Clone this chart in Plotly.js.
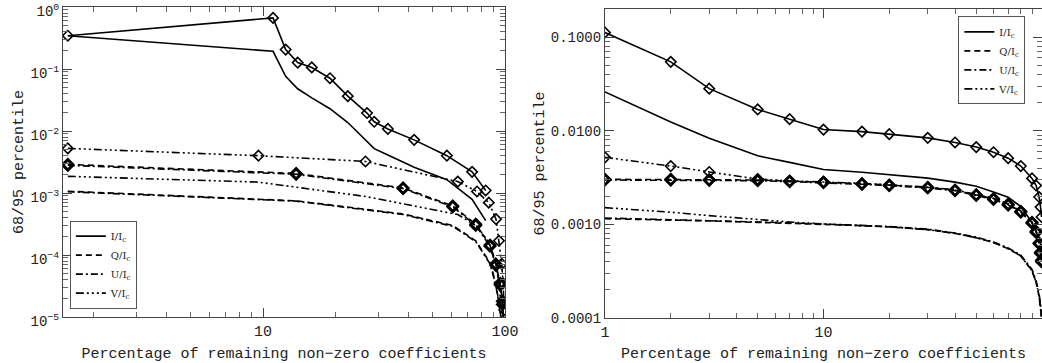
<!DOCTYPE html>
<html>
<head>
<meta charset="utf-8">
<script src="https://cdn.plot.ly/plotly-3.0.1.min.js"></script>
<style>
  html, body { margin: 0; padding: 0; background: #fff; }
  #chart { width: 1042px; height: 363px; }
</style>
</head>
<body>
<div id="chart"></div>
<script>
// ---- left panel: percentiles vs. % of remaining coefficients ----
var xI_left = [1.56, 11.0, 12.4, 13.9, 15.9, 18.9, 22.4, 26.9, 28.8, 32.8, 42.1, 57.5, 73.1, 83.2];
var i95_left = [0.344, 0.667, 0.206, 0.127, 0.106, 0.071, 0.0365, 0.0195, 0.0141, 0.0108, 0.0072, 0.0040, 0.0022, 0.0011];
var i68_left = [0.344, 0.193, 0.076, 0.048, 0.0343, 0.0229, 0.0137, 0.0068, 0.0052, 0.0041, 0.0026, 0.00164, 0.00079, 0.00036];

var xQU_left = [1.56, 13.7, 37.9, 60.8, 75.7, 86.7, 91.6, 95.5, 97.5, 99.0];
var q95_left = [0.0029, 0.00207, 0.00121, 0.00062, 0.000314, 0.000145, 7.2e-5, 3.5e-5, 1.8e-5, 8e-6];
var u95_left = [0.0028, 0.00201, 0.00118, 0.00060, 0.000300, 0.000139, 6.8e-5, 3.3e-5, 1.6e-5, 7e-6];
var q68_left = [0.00107, 0.00075, 0.00046, 0.00030, 0.00017, 7.5e-5, 3.5e-5, 1.3e-5, 5e-6, 1e-6];
var u68_left = [0.00105, 0.00074, 0.00045, 0.00029, 0.000165, 7.2e-5, 3.3e-5, 1.2e-5, 4.5e-6, 1e-6];

var xV_left = [1.56, 9.57, 26.5, 63.8, 76.6, 85.7, 91.8, 94.4, 96.9, 98.2, 99.2];
var v95_left = [0.00525, 0.0040, 0.00323, 0.00153, 0.00106, 0.00070, 0.00038, 0.00017, 7.2e-5, 3.5e-5, 1.3e-5];
var v68_left = [0.00186, 0.00150, 0.00088, 0.00045, 0.00029, 0.00016, 7.5e-5, 3.5e-5, 1.2e-5, 4e-6, 1e-6];

// ---- right panel ----
var x_right = [1, 2, 3, 5, 7, 10, 15, 20, 30, 40, 50, 60, 70, 80, 90, 94, 97, 98.5, 99.5];
var i95_right = [0.112, 0.0545, 0.0282, 0.0169, 0.0133, 0.0103, 0.0098, 0.0092, 0.0084, 0.0075, 0.0067, 0.0059, 0.0051, 0.0042, 0.0031, 0.0026, 0.00196, 0.00153, 0.0012];
var i68_right = [0.026, 0.0124, 0.0083, 0.0054, 0.0046, 0.00385, 0.0036, 0.0034, 0.00312, 0.00283, 0.00255, 0.00222, 0.00195, 0.00155, 0.00105, 0.00085, 0.0007, 0.00062, 0.0005];
var q95_right = [0.00303, 0.00303, 0.00300, 0.00298, 0.00290, 0.00283, 0.00272, 0.00263, 0.00248, 0.00232, 0.00207, 0.00188, 0.00164, 0.00137, 0.00105, 0.00084, 0.00063, 0.0005, 0.00041];
var u95_right = [0.00298, 0.00298, 0.00296, 0.00293, 0.00286, 0.00279, 0.00268, 0.00259, 0.00245, 0.00229, 0.00204, 0.00185, 0.00161, 0.00135, 0.00103, 0.00082, 0.00062, 0.00049, 0.0004];
var v95_right = [0.0052, 0.0042, 0.00363, 0.00305, 0.00292, 0.00285, 0.00274, 0.00265, 0.00250, 0.00234, 0.00209, 0.00190, 0.00166, 0.00139, 0.00106, 0.00085, 0.00064, 0.00051, 0.00042];
var q68_right = [0.00115, 0.00112, 0.00109, 0.00105, 0.00103, 0.00100, 0.00097, 0.00094, 0.00088, 0.0008, 0.00072, 0.00064, 0.00055, 0.00046, 0.00032, 0.00024, 0.00017, 0.00013, 0.0001];
var u68_right = [0.00117, 0.00113, 0.00110, 0.00106, 0.00104, 0.00101, 0.00098, 0.00095, 0.00089, 0.00081, 0.00073, 0.00065, 0.00056, 0.00047, 0.00033, 0.00025, 0.00018, 0.00014, 0.0001];
var v68_right = [0.00151, 0.00135, 0.00124, 0.00112, 0.00106, 0.00101, 0.00097, 0.00094, 0.00088, 0.0008, 0.00072, 0.00064, 0.00055, 0.00046, 0.00032, 0.00024, 0.00017, 0.00013, 0.0001];

// tick labels
var yTicksLeft = [1, 0.1, 0.01, 0.001, 1e-4, 1e-5];
var yLabelsLeft = ['10<sup>0</sup>', '10<sup>\u22121</sup>', '10<sup>\u22122</sup>', '10<sup>\u22123</sup>', '10<sup>\u22124</sup>', '10<sup>\u22125</sup>'];
var yTicksRight = [0.1, 0.01, 0.001, 0.0001];
var yLabelsRight = ['0.1000', '0.0100', '0.0010', '0.0001'];

var seriesNames = ['I/I<sub>c</sub>', 'Q/I<sub>c</sub>', 'U/I<sub>c</sub>', 'V/I<sub>c</sub>'];

var DASH_Q = '6px,4px';
var DASH_U = '7px,3px,2px,3px';
var DASH_V = '8px,3px,2px,3px,2px,3px,2px,3px';

function line(x, y, dash, xa, ya, opts) {
  var t = {
    x: x, y: y, type: 'scatter', mode: 'lines',
    xaxis: xa, yaxis: ya,
    line: {color: '#000', width: 1.6, dash: dash},
    showlegend: false, hoverinfo: 'skip'
  };
  for (var k in opts) t[k] = opts[k];
  return t;
}
function withMarkers(x, y, dash, xa, ya, lw) {
  return line(x, y, dash, xa, ya, {
    mode: 'lines+markers',
    marker: {symbol: 'diamond-open', size: 8, color: '#000', line: {width: lw || 1.6, color: '#000'}}
  });
}

var data = [
  // left
  line(xI_left, i68_left, 'solid', 'x', 'y', {name: seriesNames[0], showlegend: true, legend: 'legend'}),
  withMarkers(xI_left, i95_left, 'solid', 'x', 'y'),
  line(xQU_left, q68_left, DASH_Q, 'x', 'y', {name: seriesNames[1], showlegend: true, legend: 'legend'}),
  withMarkers(xQU_left, q95_left, DASH_Q, 'x', 'y', 2.4),
  line(xQU_left, u68_left, DASH_U, 'x', 'y', {name: seriesNames[2], showlegend: true, legend: 'legend'}),
  withMarkers(xQU_left, u95_left, DASH_U, 'x', 'y', 2.4),
  line(xV_left, v68_left, DASH_V, 'x', 'y', {name: seriesNames[3], showlegend: true, legend: 'legend'}),
  withMarkers(xV_left, v95_left, DASH_V, 'x', 'y'),
  // right
  line(x_right, i68_right, 'solid', 'x2', 'y2', {name: seriesNames[0], showlegend: true, legend: 'legend2'}),
  withMarkers(x_right, i95_right, 'solid', 'x2', 'y2'),
  line(x_right, q68_right, DASH_Q, 'x2', 'y2', {name: seriesNames[1], showlegend: true, legend: 'legend2'}),
  withMarkers(x_right, q95_right, DASH_Q, 'x2', 'y2', 2.4),
  line(x_right, u68_right, DASH_U, 'x2', 'y2', {name: seriesNames[2], showlegend: true, legend: 'legend2'}),
  withMarkers(x_right, u95_right, DASH_U, 'x2', 'y2', 2.4),
  line(x_right, v68_right, DASH_V, 'x2', 'y2', {name: seriesNames[3], showlegend: true, legend: 'legend2'}),
  withMarkers(x_right, v95_right, DASH_V, 'x2', 'y2')
];

var FONT = 'Liberation Mono, DejaVu Sans Mono, monospace';
var SERIF = 'DejaVu Serif, Liberation Serif, serif';
var XTITLE = 'Percentage of remaining non\u2212zero coefficients';
var YTITLE = '68/95 percentile';

function axisBase() {
  return {
    type: 'log',
    showgrid: false, zeroline: false,
    showline: true, linecolor: '#444', linewidth: 1, mirror: 'allticks',
    ticks: 'inside', ticklen: 9, tickcolor: '#444', tickwidth: 1,
    minor: {ticks: 'inside', ticklen: 5, tickcolor: '#666', dtick: 'D1', showgrid: false},
    tickfont: {family: FONT, size: 15, color: '#222'},
    ticklabeloverflow: 'allow',
    automargin: false
  };
}

var xaxis = axisBase();
xaxis.domain = [0, 0.4515];
xaxis.range = [Math.log10(1.49), 2];
xaxis.tickmode = 'array'; xaxis.tickvals = [10, 100]; xaxis.ticktext = ['10', '100'];
xaxis.title = {text: XTITLE, font: {family: FONT, size: 15, color: '#222'}};
xaxis.anchor = 'y';

var yaxis = axisBase();
yaxis.domain = [0.003, 1];
yaxis.range = [-5, 0];
yaxis.tickmode = 'array'; yaxis.tickvals = yTicksLeft; yaxis.ticktext = yLabelsLeft;
yaxis.tickfont = {family: FONT, size: 14, color: '#222'};
yaxis.ticklabelshift = 4;
yaxis.title = {text: YTITLE, font: {family: FONT, size: 15, color: '#222'}};
yaxis.anchor = 'x';

var xaxis2 = axisBase();
xaxis2.domain = [0.5536, 1];
xaxis2.range = [0, 2];
xaxis2.tickmode = 'array'; xaxis2.tickvals = [1, 10]; xaxis2.ticktext = ['1', '10'];
xaxis2.title = {text: XTITLE, font: {family: FONT, size: 15, color: '#222'}};
xaxis2.anchor = 'y2';

var yaxis2 = axisBase();
yaxis2.domain = [0, 0.9936];
yaxis2.range = [-4, Math.log10(0.2)];
yaxis2.tickmode = 'array'; yaxis2.tickvals = yTicksRight; yaxis2.ticktext = yLabelsRight;
yaxis2.tickfont = {family: FONT, size: 14, color: '#222'};
yaxis2.title = {text: YTITLE, font: {family: FONT, size: 15, color: '#222'}};
yaxis2.anchor = 'x2';

var legendStyle = {
  font: {family: SERIF, size: 10, color: '#222'},
  bgcolor: '#fff', bordercolor: '#555', borderwidth: 1,
  tracegroupgap: 0, itemwidth: 30
};
var legend = Object.assign({}, legendStyle, {x: 0.007, y: 0.03, xanchor: 'left', yanchor: 'bottom'});
var legend2 = Object.assign({}, legendStyle, {x: 0.983, y: 0.97, xanchor: 'right', yanchor: 'top'});

var layout = {
  width: 1042, height: 363,
  margin: {l: 63, r: 0, t: 7, b: 45},
  paper_bgcolor: '#fff', plot_bgcolor: '#fff',
  font: {family: FONT, color: '#222'},
  xaxis: xaxis, yaxis: yaxis, xaxis2: xaxis2, yaxis2: yaxis2,
  legend: legend, legend2: legend2
};

Plotly.newPlot('chart', data, layout, {staticPlot: true});
</script>
</body>
</html>
